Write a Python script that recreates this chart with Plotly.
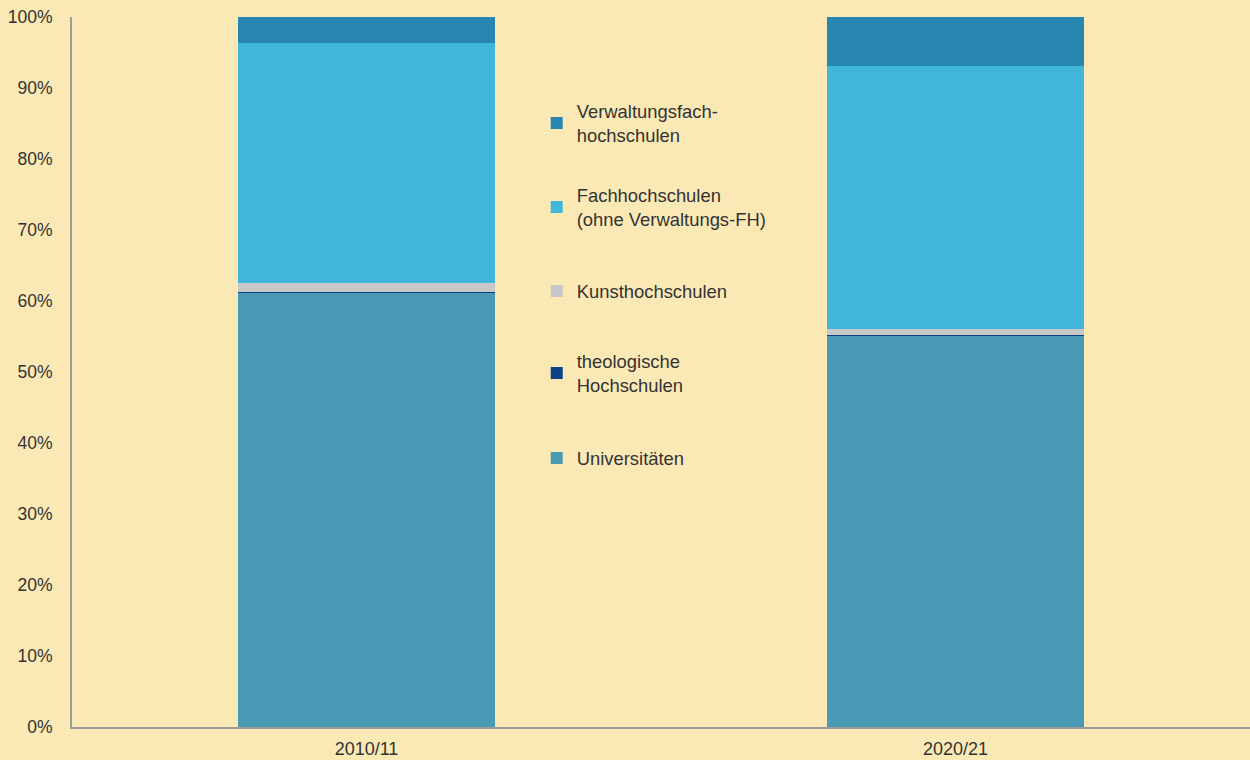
import plotly.graph_objects as go

categories = ["2010/11", "2020/21"]
series_names = [
    "Universitäten",
    "theologische<br>Hochschulen",
    "Kunsthochschulen",
    "Fachhochschulen<br>(ohne Verwaltungs-FH)",
    "Verwaltungsfach-<br>hochschulen",
]
universitaeten = [61.25, 55.15]
theologische = [0.05, 0.05]
kunst = [1.2, 0.8]
fachhochschulen = [33.8, 37.1]
verwaltung = [3.7, 6.9]
y_ticks = [0, 10, 20, 30, 40, 50, 60, 70, 80, 90, 100]
y_tick_labels = [f"{v}%" for v in y_ticks]

values = [universitaeten, theologische, kunst, fachhochschulen, verwaltung]
colors = ["#4a9ab5", "#0b3f86", "#c8c8c8", "#40b6da", "#2787b0"]

legend_centers_px = [458, 373, 291, 207, 123]
plot_top, plot_bottom = 17, 727

fig = go.Figure()
legend_ids = ["legend5", "legend4", "legend3", "legend2", "legend"]
for name, vals, col, lid in zip(series_names, values, colors, legend_ids):
    fig.add_trace(go.Bar(
        x=categories, y=vals, name=name,
        marker=dict(color=col, line=dict(width=0)),
        legend=lid, width=0.435,
    ))

legend_layout = {}
for lid, cy in zip(legend_ids, legend_centers_px):
    legend_layout[lid] = dict(
        x=0.3945, xanchor="left",
        y=(plot_bottom - cy) / (plot_bottom - plot_top), yanchor="middle",
        bgcolor="rgba(0,0,0,0)",
        font=dict(family="Liberation Sans, Arial, sans-serif", size=18.4, color="#333333"),
        itemclick=False,
    )

fig.update_layout(
    barmode="stack",
    width=1250, height=760,
    margin=dict(l=72, r=0, t=17, b=33),
    paper_bgcolor="#fae9b5",
    plot_bgcolor="#fae9b5",
    font=dict(family="Liberation Sans, Arial, sans-serif", size=17, color="#333333"),
    showlegend=True,
    xaxis=dict(
        showline=True, linecolor="#9a9a9a", linewidth=2,
        ticks="", tickfont=dict(size=18), ticklabelstandoff=4,
        showgrid=False,
    ),
    yaxis=dict(
        range=[0, 100], tickvals=y_ticks, ticktext=y_tick_labels,
        showline=True, linecolor="#9a9a9a", linewidth=2,
        showgrid=False, zeroline=False, ticks="",
        tickfont=dict(size=17.5), ticklabelstandoff=14,
    ),
    **legend_layout,
)

fig.write_html(
    "out.html",
    config={"displayModeBar": False},
    post_script="document.body.style.margin='0';document.body.style.background='#fae9b5';",
)
